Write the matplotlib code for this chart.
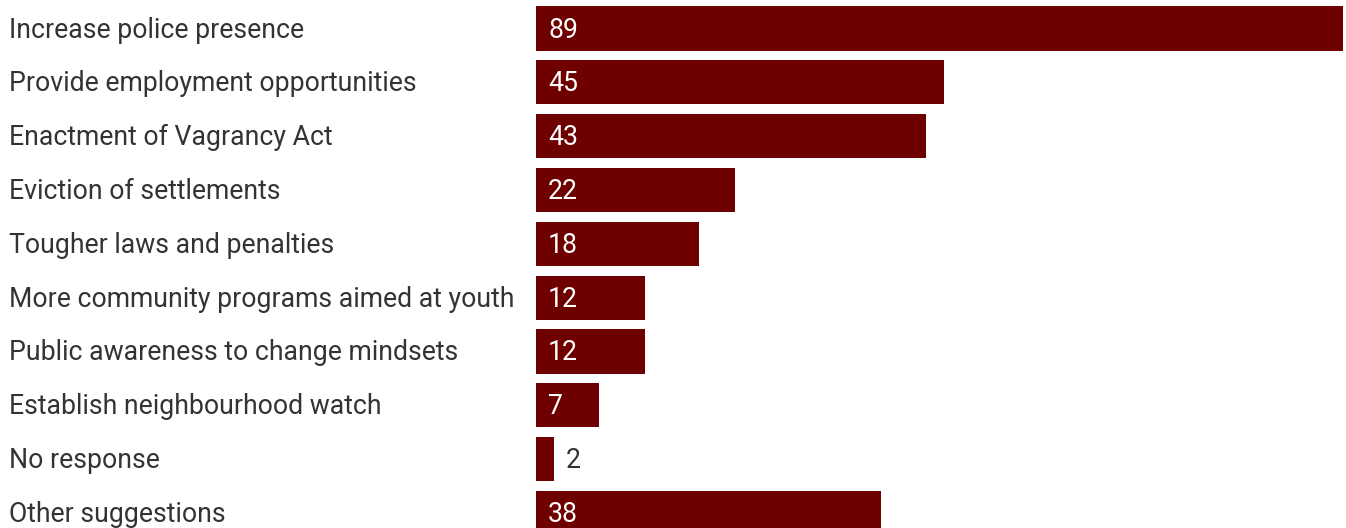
import matplotlib.pyplot as plt
import matplotlib.transforms as mtransforms

plt.rcParams['font.family'] = ['Roboto', 'DejaVu Sans']

categories = [
    'Increase police presence',
    'Provide employment opportunities',
    'Enactment of Vagrancy Act',
    'Eviction of settlements',
    'Tougher laws and penalties',
    'More community programs aimed at youth',
    'Public awareness to change mindsets',
    'Establish neighbourhood watch',
    'No response',
    'Other suggestions',
]
counts = [89, 45, 43, 22, 18, 12, 12, 7, 2, 38]

bar_color = '#6e0000'
text_color = '#333333'

W, H = 1346, 528
fig = plt.figure(figsize=(W / 100, H / 100), dpi=100)
ax = fig.add_axes([536 / W, 0, (1343 - 536) / W, 1])

rows = list(range(len(categories)))
ax.barh(rows, counts, height=0.82, color=bar_color, edgecolor='none')
ax.set_xlim(0, max(counts))
ax.set_ylim(9.28, -0.53)
ax.axis('off')

# category labels sit at the left edge of the figure
lab_tr = mtransforms.blended_transform_factory(fig.transFigure, ax.transData)
down = mtransforms.ScaledTranslation(0, -1.5 / 100, fig.dpi_scale_trans)
pad = mtransforms.ScaledTranslation(12 / 100, -1.5 / 100, fig.dpi_scale_trans)
fs = 19.2
for i, (name, v) in enumerate(zip(categories, counts)):
    ax.text(9 / W, i, name, transform=lab_tr + down, ha='left', va='center',
            fontsize=fs, color=text_color)
    if v >= 5:
        ax.text(0, i, str(v), transform=ax.transData + pad, ha='left',
                va='center', fontsize=fs, color='white')
    else:
        ax.text(v, i, str(v), transform=ax.transData + pad, ha='left',
                va='center', fontsize=fs, color=text_color)

fig.savefig('out.png', dpi=100)
